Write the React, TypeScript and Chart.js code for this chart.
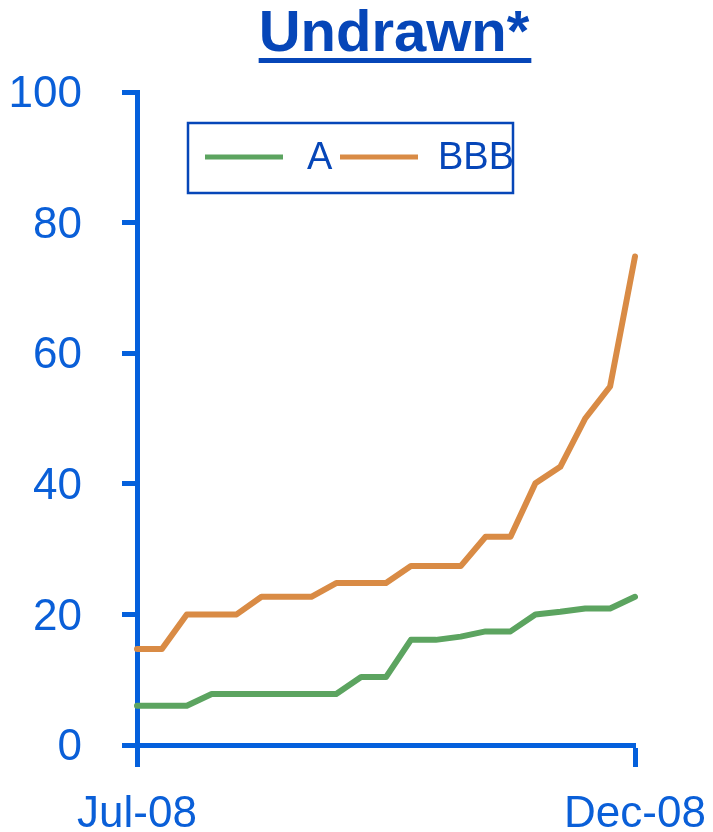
import React, { useEffect, useRef } from "react";
import { Chart, registerables } from "chart.js";

Chart.register(...registerables);

const categories = [
  "Jul-08", "", "", "", "", "", "", "", "", "", "",
  "", "", "", "", "", "", "", "", "", "Dec-08",
];
const seriesA = [6, 6, 6, 7.8, 7.8, 7.8, 7.8, 7.8, 7.8, 10.4, 10.4, 16.1, 16.1, 16.6, 17.4, 17.4, 20, 20.4, 20.9, 20.9, 22.7];
const seriesBBB = [14.7, 14.7, 20, 20, 20, 22.7, 22.7, 22.7, 24.8, 24.8, 24.8, 27.4, 27.4, 27.4, 31.9, 31.9, 40.1, 42.6, 50, 54.9, 74.8];
const yTicks = [0, 20, 40, 60, 80, 100];
const titleText = "Undrawn*";

const AXIS_BLUE = "#0460DC";
const TEXT_BLUE = "#0A5FD8";
const DARK_BLUE = "#0646B8";
const GREEN = "#5CA460";
const ORANGE = "#D98B45";
const FONT = "'Liberation Sans', Arial, sans-serif";

const decorPlugin = {
  id: "decor",
  afterDraw(chart: any) {
    const ctx = chart.ctx as CanvasRenderingContext2D;
    const area = chart.chartArea;
    ctx.save();
    // Title with underline
    ctx.font = `bold 58px ${FONT}`;
    ctx.fillStyle = DARK_BLUE;
    ctx.textAlign = "center";
    ctx.textBaseline = "alphabetic";
    const tx = 386;
    const ty = 43;
    ctx.fillText(titleText, tx, ty);
    const tw = ctx.measureText(titleText).width;
    ctx.fillRect(tx - tw / 2, ty + 7, tw + 2, 5);

    // Legend box
    const bx = area.left + 51;
    const by = area.top + 31;
    const bw = 325;
    const bh = 70;
    ctx.strokeStyle = DARK_BLUE;
    ctx.lineWidth = 2.5;
    ctx.strokeRect(bx, by, bw, bh);
    const ly = by + 34;
    const items = chart.data.datasets;
    const lineStarts = [bx + 17, bx + 152];
    const textStarts = [bx + 119, bx + 250];
    ctx.font = `38px ${FONT}`;
    ctx.textAlign = "left";
    ctx.textBaseline = "middle";
    items.forEach((ds: any, i: number) => {
      ctx.strokeStyle = ds.borderColor;
      ctx.lineWidth = 5;
      ctx.beginPath();
      ctx.moveTo(lineStarts[i], ly);
      ctx.lineTo(lineStarts[i] + 78, ly);
      ctx.stroke();
      ctx.fillStyle = DARK_BLUE;
      ctx.fillText(ds.label, textStarts[i], ly + 2);
    });
    ctx.restore();
  },
};

export default function App() {
  const ref = useRef<HTMLCanvasElement | null>(null);

  useEffect(() => {
    if (!ref.current) return;
    const last = categories.length - 1;
    const chart = new Chart(ref.current, {
      type: "line",
      data: {
        labels: categories,
        datasets: [
          {
            label: "A",
            data: seriesA,
            borderColor: GREEN,
            backgroundColor: GREEN,
            borderWidth: 6,
            pointRadius: 0,
            tension: 0,
            borderCapStyle: "round",
            borderJoinStyle: "round",
          },
          {
            label: "BBB",
            data: seriesBBB,
            borderColor: ORANGE,
            backgroundColor: ORANGE,
            borderWidth: 6,
            pointRadius: 0,
            tension: 0,
            borderCapStyle: "round",
            borderJoinStyle: "round",
          },
        ],
      },
      options: {
        animation: false,
        responsive: true,
        maintainAspectRatio: false,
        layout: { padding: { top: 84, right: 70, bottom: 0, left: 0 } },
        plugins: {
          legend: { display: false },
          title: { display: false },
          tooltip: { enabled: false },
        },
        scales: {
          x: {
            offset: false,
            border: { display: true, color: AXIS_BLUE, width: 5 },
            grid: {
              drawOnChartArea: false,
              drawTicks: true,
              tickLength: 22,
              tickWidth: 5,
              tickColor: (c: any) =>
                c.index === 0 || c.index === last ? AXIS_BLUE : "rgba(0,0,0,0)",
            },
            ticks: {
              autoSkip: false,
              maxRotation: 0,
              minRotation: 0,
              padding: 21,
              color: TEXT_BLUE,
              font: { family: FONT, size: 44 },
            },
            afterFit: (s: any) => {
              s.paddingLeft = 0;
              s.paddingRight = 0;
              s.height = 87;
            },
          },
          y: {
            min: yTicks[0],
            max: yTicks[yTicks.length - 1],
            border: { display: true, color: AXIS_BLUE, width: 5 },
            grid: {
              drawOnChartArea: false,
              drawTicks: true,
              tickLength: 15,
              tickWidth: 5,
              tickColor: AXIS_BLUE,
            },
            afterBuildTicks: (axis: any) => {
              axis.ticks = yTicks.map((v) => ({ value: v }));
            },
            ticks: {
              padding: 40,
              labelOffset: 3,
              color: TEXT_BLUE,
              font: { family: FONT, size: 44 },
            },
            afterFit: (s: any) => {
              s.paddingTop = 0;
              s.paddingBottom = 0;
              s.width = 129;
            },
          },
        },
      },
      plugins: [decorPlugin],
    });
    return () => chart.destroy();
  }, []);

  return (
    <div style={{ position: "relative", width: "697px", height: "824px" }}>
      <canvas ref={ref} />
    </div>
  );
}
